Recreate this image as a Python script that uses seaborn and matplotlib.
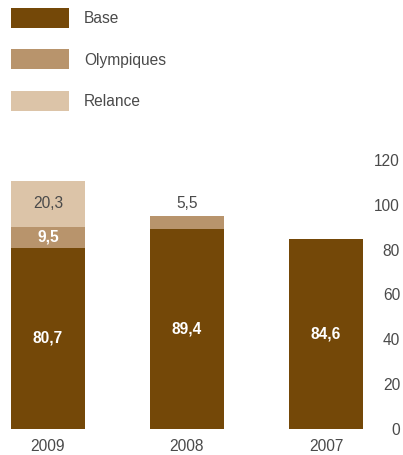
import matplotlib
matplotlib.use("Agg")
import matplotlib.pyplot as plt
from matplotlib.patches import Patch
import seaborn as sns
import pandas as pd

# Budget components per year (values shown on the bars)
years = ["2009", "2008", "2007"]
base = [80.7, 89.4, 84.6]
olympiques = [9.5, 5.5, 0.0]
relance = [20.3, 0.0, 0.0]
series_names = ["Base", "Olympiques", "Relance"]
y_ticks = [0, 20, 40, 60, 80, 100, 120]

colors = {"Base": "#744808", "Olympiques": "#b8946c", "Relance": "#dcc4a8"}
text_gray = "#4a4a4a"

sns.set_theme(style="white")
plt.rcParams["font.family"] = ["Liberation Sans", "DejaVu Sans"]

df = pd.DataFrame({"year": years, "Base": base,
                   "Olympiques": olympiques, "Relance": relance})
df["top_olymp"] = df["Base"] + df["Olympiques"]
df["top_relance"] = df["top_olymp"] + df["Relance"]

fig = plt.figure(figsize=(4.03, 4.55), dpi=100)
ax = fig.add_axes([0.0, 26.3 / 455, 370 / 403, 268.7 / 455])

bar_w = 0.53
# stacked bars: draw cumulative totals from the top layer down
for col, name in [("top_relance", "Relance"), ("top_olymp", "Olympiques"), ("Base", "Base")]:
    sns.barplot(data=df, x="year", y=col, order=years, color=colors[name],
                width=bar_w, saturation=1, ax=ax, linewidth=0)

def fmt(v):
    return f"{v:.1f}".replace(".", ",")

fs = 11.2
for i, yr in enumerate(years):
    b, o, r = base[i], olympiques[i], relance[i]
    ax.text(i, b / 2, fmt(b), ha="center", va="center", color="white",
            fontsize=fs, fontweight="bold")
    if o > 0:
        if o >= 8:
            ax.text(i, b + o / 2, fmt(o), ha="center", va="center",
                    color="white", fontsize=fs, fontweight="bold")
        elif r == 0:
            ax.annotate(fmt(o), (i, b + o), xytext=(0, 4), textcoords="offset points",
                        ha="center", va="bottom", color=text_gray, fontsize=fs)
    if r > 0:
        ax.text(i, b + o + r / 2, fmt(r), ha="center", va="center",
                color=text_gray, fontsize=fs)

ax.set_xlim(-0.345, 2.317)
ax.set_ylim(0, 120)
ax.set_xlabel("")
ax.set_ylabel("")
ax.yaxis.tick_right()
ax.set_yticks(y_ticks)
ax.set_yticklabels([str(t) for t in y_ticks])
for lbl in ax.get_yticklabels():
    lbl.set_ha("right")
ax.tick_params(axis="y", length=0, pad=21.6, labelsize=fs, labelcolor=text_gray)
ax.tick_params(axis="x", length=0, pad=7.5, labelsize=fs, labelcolor=text_gray)
for s in ax.spines.values():
    s.set_visible(False)
ax.grid(False)

handles = [Patch(facecolor=colors[n], edgecolor="none") for n in series_names]
fig.legend(handles, series_names, loc="upper left",
           bbox_to_anchor=(11 / 403, 1 - 8 / 455), frameon=False,
           fontsize=fs, handlelength=58 / 15.5, handleheight=1.6,
           handletextpad=0.95, labelspacing=1.38, borderpad=0, borderaxespad=0,
           labelcolor=text_gray)

fig.savefig("out.png", dpi=100)
